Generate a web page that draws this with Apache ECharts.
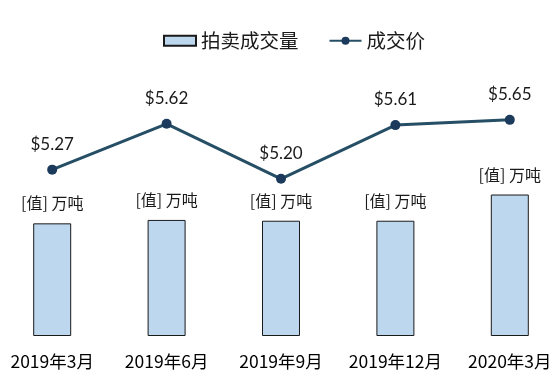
<!DOCTYPE html>
<html>
<head>
<meta charset="utf-8">
<script src="https://cdn.jsdelivr.net/npm/echarts@6/dist/echarts.min.js"></script>
<style>
  html, body { margin: 0; padding: 0; background: #ffffff; overflow: hidden; }
  /* plot spans slightly past the page edges so the outer bars sit close to the border */
  #chart { width: 572px; height: 380px; margin-left: -5px; }
</style>
</head>
<body>
<div id="chart"></div>
<script>
// Quarterly auction volume (bars) and clearing price (line)
const categories = ['2019年3月', '2019年6月', '2019年9月', '2019年12月', '2020年3月'];
const volume = [43, 44.3, 44, 44, 54];
const price = [5.27, 5.62, 5.20, 5.61, 5.65];
const volumeLabel = '[值] 万吨';

const chart = echarts.init(document.getElementById('chart'), null, { renderer: 'canvas' });

chart.setOption({
  backgroundColor: '#ffffff',
  animation: false,
  legend: {
    left: 163,
    top: 26,
    itemWidth: 32,
    itemHeight: 10,
    itemGap: 30,
    textStyle: { fontSize: 19.5, color: '#1a1a1a', fontFamily: 'Noto Sans CJK SC' },
    data: [
      { name: '拍卖成交量', icon: 'rect' },
      { name: '成交价' }
    ]
  },
  grid: { left: 0, right: 0, top: 74, bottom: 44, containLabel: false },
  xAxis: {
    type: 'category',
    data: categories,
    axisLine: { show: false },
    axisTick: { show: false },
    axisLabel: {
      interval: 0,
      hideOverlap: false,
      margin: 17,
      fontSize: 17.5,
      color: '#000000',
      fontFamily: 'Noto Sans CJK SC'
    }
  },
  yAxis: [
    { type: 'value', min: 0, max: 100, show: false, splitLine: { show: false } },
    { type: 'value', min: 4, max: 6, show: false, splitLine: { show: false } }
  ],
  series: [
    {
      name: '拍卖成交量',
      type: 'bar',
      data: volume,
      yAxisIndex: 0,
      barWidth: 38,
      itemStyle: { color: '#BDD7EE', borderColor: '#1a1a1a', borderWidth: 1 },
      label: {
        show: true,
        position: 'top',
        distance: 12,
        formatter: () => volumeLabel,
        fontSize: 16,
        color: '#1a1a1a',
        fontFamily: 'Noto Sans CJK SC'
      }
    },
    {
      name: '成交价',
      type: 'line',
      data: price,
      yAxisIndex: 1,
      symbol: 'circle',
      symbolSize: 10,
      lineStyle: { color: '#264f66', width: 3 },
      itemStyle: { color: '#1b3a5c' },
      label: {
        show: true,
        position: 'top',
        distance: 12,
        formatter: p => '$' + p.value.toFixed(2),
        fontSize: 17,
        color: '#1a1a1a',
        fontFamily: 'Lato'
      }
    }
  ]
});
</script>
</body>
</html>
